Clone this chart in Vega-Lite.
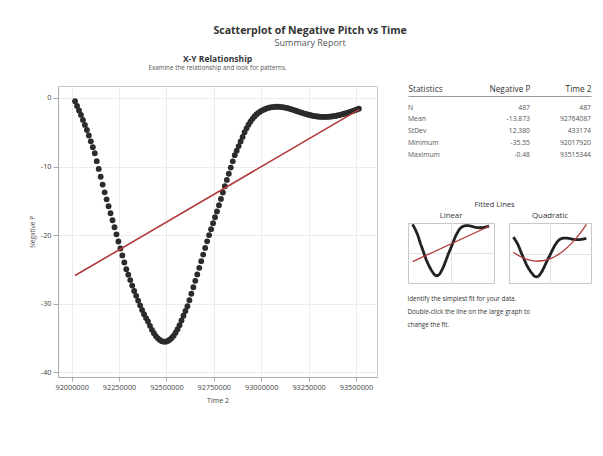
{
  "$schema": "https://vega.github.io/schema/vega-lite/v6.json",
  "background": "white",
  "padding": {"left": 28, "top": 26, "right": 5, "bottom": 5},
  "title": {"text": "Scatterplot of Negative Pitch  vs Time", "subtitle": "Summary Report", "fontSize": 10.5, "fontWeight": "bold", "color": "#333333", "subtitleFontSize": 9, "subtitleColor": "#555555", "subtitlePadding": 2, "anchor": "middle", "offset": 7},
  "spacing": 31,
  "bounds": "flush",
  "datasets": {
    "pitch": [
      {"time": 92017920, "negp": -0.48}, {"time": 92028400, "negp": -1.16}, {"time": 92038800, "negp": -1.81}, {"time": 92049200, "negp": -2.47},
      {"time": 92059600, "negp": -3.20}, {"time": 92070000, "negp": -3.93}, {"time": 92080400, "negp": -4.67}, {"time": 92090800, "negp": -5.47},
      {"time": 92101200, "negp": -6.32}, {"time": 92111600, "negp": -7.17}, {"time": 92122000, "negp": -8.06}, {"time": 92132400, "negp": -9.21},
      {"time": 92142800, "negp": -10.35}, {"time": 92153200, "negp": -11.49}, {"time": 92163600, "negp": -12.63}, {"time": 92174000, "negp": -13.76},
      {"time": 92184400, "negp": -14.78}, {"time": 92194800, "negp": -15.79}, {"time": 92205200, "negp": -16.81}, {"time": 92215600, "negp": -17.83},
      {"time": 92226000, "negp": -18.86}, {"time": 92236400, "negp": -19.89}, {"time": 92246800, "negp": -20.93}, {"time": 92257200, "negp": -21.95},
      {"time": 92267600, "negp": -22.96}, {"time": 92278000, "negp": -23.98}, {"time": 92288400, "negp": -24.97}, {"time": 92298800, "negp": -25.77},
      {"time": 92309200, "negp": -26.56}, {"time": 92319600, "negp": -27.36}, {"time": 92330000, "negp": -28.16}, {"time": 92340400, "negp": -28.86},
      {"time": 92350800, "negp": -29.55}, {"time": 92361200, "negp": -30.24}, {"time": 92371600, "negp": -30.92}, {"time": 92382000, "negp": -31.54},
      {"time": 92392400, "negp": -32.11}, {"time": 92402800, "negp": -32.60}, {"time": 92413200, "negp": -33.23}, {"time": 92423600, "negp": -33.82},
      {"time": 92434000, "negp": -34.31}, {"time": 92444400, "negp": -34.73}, {"time": 92454800, "negp": -35.06}, {"time": 92465200, "negp": -35.30},
      {"time": 92475600, "negp": -35.47}, {"time": 92486000, "negp": -35.54}, {"time": 92496400, "negp": -35.55}, {"time": 92506800, "negp": -35.45},
      {"time": 92517200, "negp": -35.27}, {"time": 92527600, "negp": -35.01}, {"time": 92538000, "negp": -34.67}, {"time": 92548400, "negp": -34.24},
      {"time": 92558800, "negp": -33.73}, {"time": 92569200, "negp": -33.14}, {"time": 92579600, "negp": -32.45}, {"time": 92590000, "negp": -31.76},
      {"time": 92600400, "negp": -31.07}, {"time": 92610800, "negp": -30.38}, {"time": 92621200, "negp": -29.50}, {"time": 92631600, "negp": -28.56},
      {"time": 92642000, "negp": -27.61}, {"time": 92652400, "negp": -26.67}, {"time": 92662800, "negp": -25.73}, {"time": 92673200, "negp": -24.77},
      {"time": 92683600, "negp": -23.80}, {"time": 92694000, "negp": -22.84}, {"time": 92704400, "negp": -21.87}, {"time": 92714800, "negp": -20.91},
      {"time": 92725200, "negp": -20.00}, {"time": 92735600, "negp": -19.13}, {"time": 92746000, "negp": -18.26}, {"time": 92756400, "negp": -17.40},
      {"time": 92766800, "negp": -16.54}, {"time": 92777200, "negp": -15.64}, {"time": 92787600, "negp": -14.72}, {"time": 92798000, "negp": -13.79},
      {"time": 92808400, "negp": -12.87}, {"time": 92818800, "negp": -11.95}, {"time": 92829200, "negp": -11.05}, {"time": 92839600, "negp": -10.15},
      {"time": 92850000, "negp": -9.24}, {"time": 92860400, "negp": -8.34}, {"time": 92870800, "negp": -7.68}, {"time": 92881200, "negp": -7.01},
      {"time": 92891600, "negp": -6.35}, {"time": 92902000, "negp": -5.68}, {"time": 92912400, "negp": -5.00}, {"time": 92922800, "negp": -4.42},
      {"time": 92933200, "negp": -3.90}, {"time": 92943600, "negp": -3.44}, {"time": 92954000, "negp": -3.04}, {"time": 92964400, "negp": -2.70},
      {"time": 92974800, "negp": -2.41}, {"time": 92985200, "negp": -2.17}, {"time": 92995600, "negp": -1.97}, {"time": 93006000, "negp": -1.80},
      {"time": 93016400, "negp": -1.66}, {"time": 93026800, "negp": -1.54}, {"time": 93037200, "negp": -1.45}, {"time": 93047600, "negp": -1.38},
      {"time": 93058000, "negp": -1.33}, {"time": 93068400, "negp": -1.30}, {"time": 93078800, "negp": -1.28}, {"time": 93089200, "negp": -1.28},
      {"time": 93099600, "negp": -1.29}, {"time": 93110000, "negp": -1.32}, {"time": 93120400, "negp": -1.37}, {"time": 93130800, "negp": -1.43},
      {"time": 93141200, "negp": -1.50}, {"time": 93151600, "negp": -1.58}, {"time": 93162000, "negp": -1.67}, {"time": 93172400, "negp": -1.76},
      {"time": 93182800, "negp": -1.86}, {"time": 93193200, "negp": -1.96}, {"time": 93203600, "negp": -2.06}, {"time": 93214000, "negp": -2.15},
      {"time": 93224400, "negp": -2.24}, {"time": 93234800, "negp": -2.33}, {"time": 93245200, "negp": -2.41}, {"time": 93255600, "negp": -2.48},
      {"time": 93266000, "negp": -2.55}, {"time": 93276400, "negp": -2.61}, {"time": 93286800, "negp": -2.66}, {"time": 93297200, "negp": -2.70},
      {"time": 93307600, "negp": -2.73}, {"time": 93318000, "negp": -2.75}, {"time": 93328400, "negp": -2.76}, {"time": 93338800, "negp": -2.76},
      {"time": 93349200, "negp": -2.75}, {"time": 93359600, "negp": -2.73}, {"time": 93370000, "negp": -2.70}, {"time": 93380400, "negp": -2.66},
      {"time": 93390800, "negp": -2.61}, {"time": 93401200, "negp": -2.55}, {"time": 93411600, "negp": -2.49}, {"time": 93422000, "negp": -2.42},
      {"time": 93432400, "negp": -2.34}, {"time": 93442800, "negp": -2.26}, {"time": 93453200, "negp": -2.17}, {"time": 93463600, "negp": -2.08},
      {"time": 93474000, "negp": -1.98}, {"time": 93484400, "negp": -1.88}, {"time": 93494800, "negp": -1.78}, {"time": 93505200, "negp": -1.67},
      {"time": 93515344, "negp": -1.56}
    ],
    "linfit": [
      {"time": 92017920, "negp": -25.9},
      {"time": 93515344, "negp": -1.7}
    ],
    "quadfit": [
      {"time": 92017920, "negp": -13.75}, {"time": 92167662, "negp": -17.83}, {"time": 92317405, "negp": -20.45},
      {"time": 92467147, "negp": -21.63}, {"time": 92616890, "negp": -21.36}, {"time": 92766632, "negp": -19.64},
      {"time": 92916374, "negp": -16.47}, {"time": 93066117, "negp": -11.85}, {"time": 93215859, "negp": -5.78},
      {"time": 93365602, "negp": 1.73}, {"time": 93515344, "negp": 10.70}
    ],
    "stats": [
      {"stat": "N", "negp": "487", "time2": "487"},
      {"stat": "Mean", "negp": "-13.873", "time2": "92764087"},
      {"stat": "StDev", "negp": "12.380", "time2": "433174"},
      {"stat": "Minimum", "negp": "-35.55", "time2": "92017920"},
      {"stat": "Maximum", "negp": "-0.48", "time2": "93515344"}
    ]
  },
  "hconcat": [
    {
      "width": 319,
      "height": 291,
      "title": {"text": "X-Y Relationship", "subtitle": "Examine the relationship and look for patterns.", "fontSize": 8.5, "fontWeight": "bold", "color": "#333333", "subtitleFontSize": 6.3, "subtitleColor": "#555555", "subtitlePadding": 1.5, "offset": 14.5, "anchor": "middle"},
      "layer": [
        {
          "data": {"name": "pitch"},
          "mark": {"type": "circle", "size": 34, "color": "#2b2b2b", "opacity": 1},
          "encoding": {
            "x": {"field": "time", "type": "quantitative", "title": "Time 2",
              "scale": {"domain": [91928000, 93611000], "nice": false, "zero": false},
              "axis": {"values": [92000000, 92250000, 92500000, 92750000, 93000000, 93250000, 93500000], "format": "d", "labelFontSize": 7.3, "labelColor": "#444444", "tickSize": 4, "tickColor": "#aaaaaa", "domainColor": "#aaaaaa", "gridColor": "#ececec", "titleFontSize": 7, "titleFontWeight": "normal", "titleColor": "#444444", "titlePadding": 6, "labelPadding": 2}},
            "y": {"field": "negp", "type": "quantitative", "title": "Negative P",
              "scale": {"domain": [-40.7, 1.75], "nice": false, "zero": false},
              "axis": {"values": [0, -10, -20, -30, -40], "format": "d", "labelFontSize": 7.3, "labelColor": "#444444", "tickSize": 5, "tickColor": "#aaaaaa", "domainColor": "#aaaaaa", "gridColor": "#ececec", "titleFontSize": 6.5, "titleFontWeight": "normal", "titleColor": "#555555", "titlePadding": 5, "labelPadding": 2}}
          }
        },
        {
          "data": {"name": "linfit"},
          "mark": {"type": "line", "color": "#b33a3a", "strokeWidth": 1.6},
          "encoding": {
            "x": {"field": "time", "type": "quantitative"},
            "y": {"field": "negp", "type": "quantitative"}
          }
        }
      ]
    },
    {
      "spacing": 10,
      "bounds": "flush",
      "title": {"text": ["Identify the simplest fit for your data.", "Double-click the line on the large graph to", "change the fit."], "orient": "bottom", "anchor": "start", "fontSize": 6.3, "fontWeight": "normal", "color": "#333333", "lineHeight": 13.3, "offset": 12},
      "vconcat": [
        {
          "width": 183,
          "height": 127,
          "data": {"name": "stats"},
          "view": {"stroke": null},
          "layer": [
            {
              "mark": {"type": "text", "align": "left", "baseline": "middle", "fontSize": 6.8, "color": "#555555"},
              "encoding": {
                "x": {"datum": "Statistics", "type": "nominal", "title": null,
                  "scale": {"domain": ["Statistics", "gap", "Negative P", "Time 2"], "range": [0, 183], "padding": 0},
                  "axis": {"orient": "top", "values": ["Statistics", "Negative P", "Time 2"], "ticks": false, "grid": false, "domainColor": "#999999", "labelFontSize": 8.3, "labelColor": "#333333", "labelPadding": 3, "labelAngle": 0, "offset": -10,
                    "labelAlign": {"condition": {"test": "datum.value === 'Statistics'", "value": "left"}, "value": "right"}}},
                "y": {"field": "stat", "type": "nominal", "scale": {"domain": ["N", "Mean", "StDev", "Minimum", "Maximum"], "range": [21.6, 68.6], "padding": 0}, "axis": null},
                "text": {"field": "stat"}
              }
            },
            {
              "mark": {"type": "text", "align": "right", "baseline": "middle", "fontSize": 6.8, "color": "#555555"},
              "encoding": {
                "x": {"datum": "Negative P", "type": "nominal", "title": null},
                "y": {"field": "stat", "type": "nominal", "axis": null},
                "text": {"field": "negp"}
              }
            },
            {
              "mark": {"type": "text", "align": "right", "baseline": "middle", "fontSize": 6.8, "color": "#555555"},
              "encoding": {
                "x": {"datum": "Time 2", "type": "nominal", "title": null},
                "y": {"field": "stat", "type": "nominal", "axis": null},
                "text": {"field": "time2"}
              }
            }
          ]
        },
        {
          "spacing": 15,
          "bounds": "flush",
          "title": {"text": "Fitted Lines", "fontSize": 7.5, "fontWeight": "normal", "color": "#333333", "offset": 3, "anchor": "middle", "dx": -5},
          "hconcat": [
            {
              "width": 86,
              "height": 60,
              "title": {"text": "Linear", "fontSize": 7.8, "fontWeight": "normal", "color": "#333333", "offset": 3},
              "layer": [
                {
                  "data": {"name": "pitch"},
                  "mark": {"type": "line", "color": "#222222", "strokeWidth": 2.8, "clip": true},
                  "encoding": {
                    "x": {"field": "time", "type": "quantitative", "scale": {"domain": [91928000, 93611000], "nice": false, "zero": false},
                      "axis": {"values": [92770000], "labels": false, "ticks": false, "domain": false, "title": null, "grid": true, "gridColor": "#e2e2e2"}},
                    "y": {"field": "negp", "type": "quantitative", "scale": {"domain": [-40.5, 0.5], "nice": false, "zero": false},
                      "axis": {"values": [-20], "labels": false, "ticks": false, "domain": false, "title": null, "grid": true, "gridColor": "#e2e2e2"}}
                  }
                },
                {
                  "data": {"name": "linfit"},
                  "mark": {"type": "line", "color": "#b33a3a", "strokeWidth": 1.3, "clip": true},
                  "encoding": {
                    "x": {"field": "time", "type": "quantitative"},
                    "y": {"field": "negp", "type": "quantitative"}
                  }
                }
              ]
            },
            {
              "width": 82,
              "height": 60,
              "title": {"text": "Quadratic", "fontSize": 7.8, "fontWeight": "normal", "color": "#333333", "offset": 3},
              "layer": [
                {
                  "data": {"name": "pitch"},
                  "mark": {"type": "line", "color": "#222222", "strokeWidth": 2.8, "clip": true},
                  "encoding": {
                    "x": {"field": "time", "type": "quantitative", "scale": {"domain": [91928000, 93611000], "nice": false, "zero": false},
                      "axis": {"values": [92770000], "labels": false, "ticks": false, "domain": false, "title": null, "grid": true, "gridColor": "#e2e2e2"}},
                    "y": {"field": "negp", "type": "quantitative", "scale": {"domain": [-41, 12], "nice": false, "zero": false},
                      "axis": {"values": [-15], "labels": false, "ticks": false, "domain": false, "title": null, "grid": true, "gridColor": "#e2e2e2"}}
                  }
                },
                {
                  "data": {"name": "quadfit"},
                  "mark": {"type": "line", "color": "#b33a3a", "strokeWidth": 1.3, "clip": true, "interpolate": "monotone"},
                  "encoding": {
                    "x": {"field": "time", "type": "quantitative"},
                    "y": {"field": "negp", "type": "quantitative"}
                  }
                }
              ]
            }
          ]
        }
      ]
    }
  ],
  "config": {
    "font": "Open Sans",
    "locale": {"number": {"decimal": ".", "thousands": ",", "grouping": [3], "currency": ["$", ""], "minus": "-"}},
    "view": {"stroke": "#c8c8c8"}
  }
}
